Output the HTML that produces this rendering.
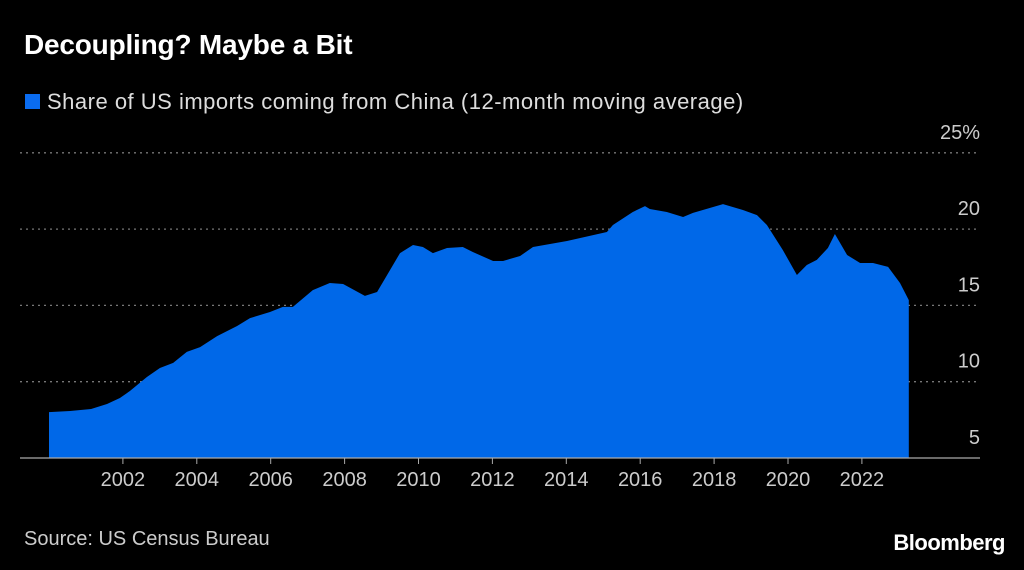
<!DOCTYPE html>
<html><head><meta charset="utf-8"><style>
html,body{margin:0;padding:0;background:#000;}
body{width:1024px;height:570px;overflow:hidden;position:relative;font-family:"Liberation Sans",sans-serif;}
.t{position:absolute;color:#fff;white-space:nowrap;}
</style></head><body>
<div class="t" style="left:24px;top:29px;font-size:28px;font-weight:bold;letter-spacing:-0.2px;">Decoupling? Maybe a Bit</div>
<div class="t" style="left:25px;top:89px;font-size:22px;letter-spacing:0.5px;color:#ddd;">
<span style="display:inline-block;width:15px;height:15px;background:#0a6cf0;vertical-align:0px;margin-right:7px;"></span>Share of US imports coming from China (12-month moving average)</div>
<svg id="chart" width="1024" height="570" style="position:absolute;left:0;top:0;"></svg>
<div class="t" style="left:24px;top:528px;font-size:20px;color:#ccc;">Source: US Census Bureau</div>
<div class="t" style="right:19px;top:530px;font-size:22px;font-weight:bold;letter-spacing:-0.5px;">Bloomberg</div>
<script>
const years=[2000.0,2000.57,2001.14,2001.57,2001.92,2002.19,2002.65,2003.0,2003.36,2003.73,2004.09,2004.55,2005.09,2005.44,2005.98,2006.33,2006.6,2007.14,2007.6,2007.96,2008.55,2008.88,2009.5,2009.85,2010.12,2010.39,2010.77,2011.2,2011.47,2012.02,2012.29,2012.75,2013.1,2014.02,2015.1,2015.26,2015.8,2016.13,2016.26,2016.72,2017.16,2017.43,2018.24,2018.78,2019.16,2019.43,2019.86,2020.24,2020.51,2020.78,2021.08,2021.27,2021.6,2021.95,2022.3,2022.71,2023.03,2023.27];
const values=[8.01,8.08,8.21,8.54,8.93,9.39,10.31,10.9,11.23,11.95,12.27,12.99,13.65,14.17,14.57,14.9,14.9,16.0,16.47,16.4,15.62,15.88,18.43,18.96,18.83,18.43,18.76,18.83,18.5,17.91,17.91,18.24,18.83,19.22,19.81,20.27,21.12,21.51,21.32,21.12,20.79,21.06,21.64,21.25,20.92,20.27,18.63,16.99,17.65,17.98,18.76,19.68,18.3,17.78,17.78,17.52,16.47,15.35];
const yTicks=[5,10,15,20,25];
const yTickLabels=["5","10","15","20","25%"];
const xTicks=[2002,2004,2006,2008,2010,2012,2014,2016,2018,2020,2022];
const NS="http://www.w3.org/2000/svg";
const svg=document.getElementById('chart');
const xS=y=>49+(y-2000)*36.95;
const yS=v=>458-(v-5)*15.26;
function mk(t,a){const e=document.createElementNS(NS,t);for(const k in a)e.setAttribute(k,a[k]);svg.appendChild(e);return e;}
yTicks.forEach((v,i)=>{
  if(v>5){const g=mk('line',{x1:20,x2:980,y1:yS(v),y2:yS(v),stroke:'#777','stroke-width':1.3,'stroke-dasharray':'2,4'});
  
  }
  const t=mk('text',{x:980,y:yS(v)-14,'text-anchor':'end',fill:'#ccc','font-size':20,'font-family':'Liberation Sans, sans-serif'});
  t.textContent=yTickLabels[i];
  
  
});
let d='M'+xS(years[0])+','+yS(5);
years.forEach((y,i)=>{d+=' L'+xS(y).toFixed(1)+','+yS(values[i]).toFixed(1);});
d+=' L'+xS(years[years.length-1]).toFixed(1)+','+yS(5)+' Z';
const area=mk('path',{d:d,fill:'#0068e8'});


const base=mk('line',{x1:20,x2:980,y1:458,y2:458,stroke:'#aaa','stroke-width':1.2});


xTicks.forEach(y=>{
  const tk=mk('line',{x1:xS(y),x2:xS(y),y1:458,y2:464,stroke:'#aaa','stroke-width':1});
  
  
  const t=mk('text',{x:xS(y),y:486,'text-anchor':'middle',fill:'#ccc','font-size':20,'font-family':'Liberation Sans, sans-serif'});
  t.textContent=y;
  
  
});
</script>
</body></html>
